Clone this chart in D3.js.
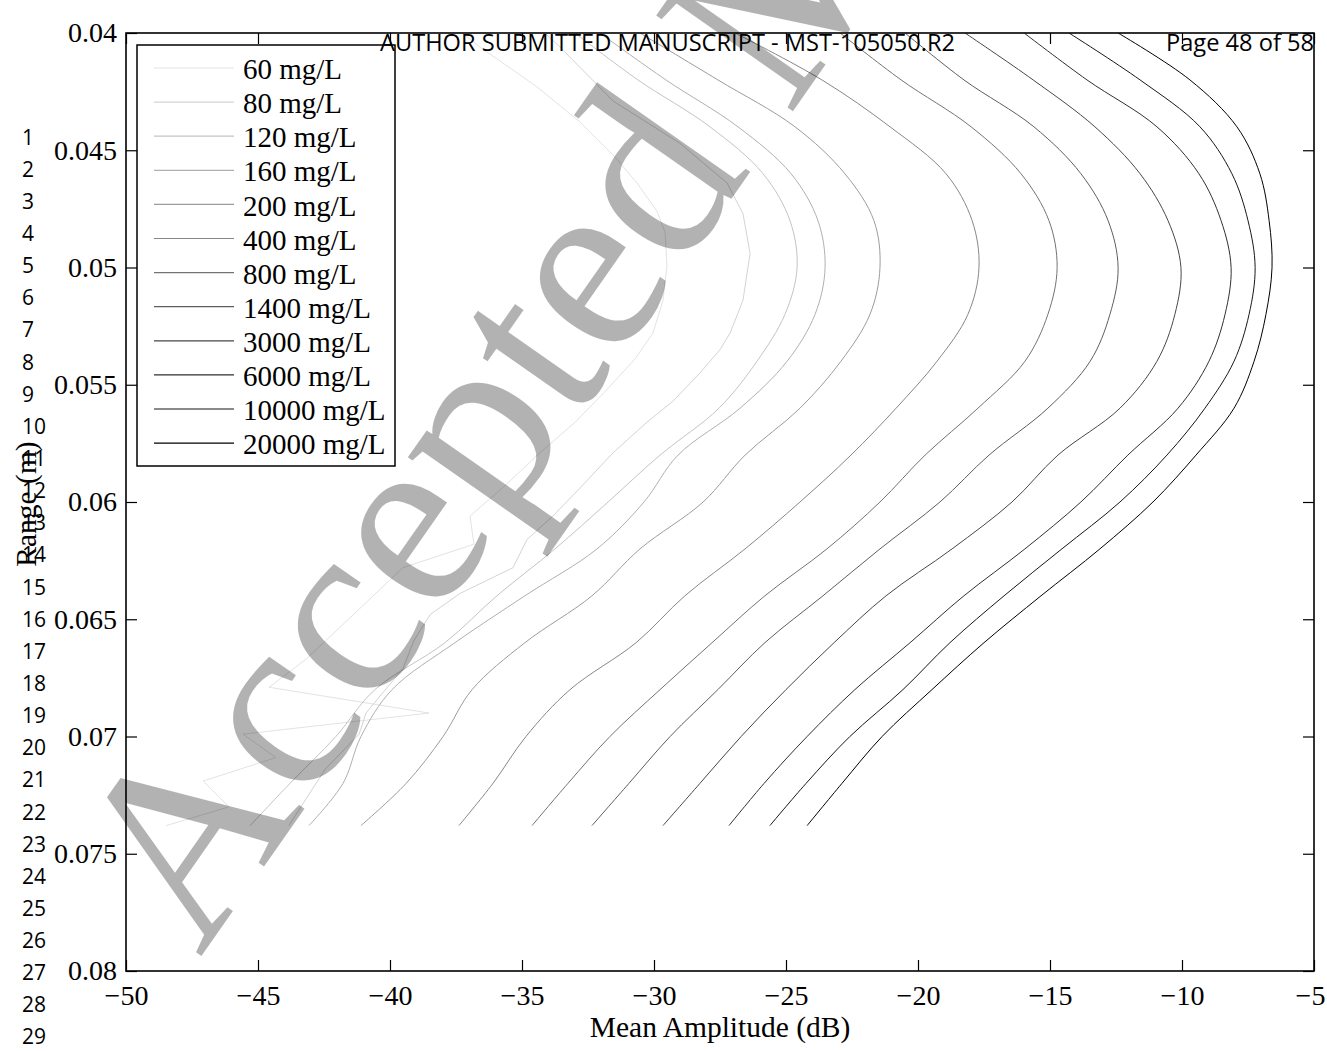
<!DOCTYPE html>
<html><head><meta charset="utf-8">
<script src="https://cdn.jsdelivr.net/npm/d3@7"></script>
<style>body{margin:0;background:#fff}</style>
</head><body>
<svg id="chart" width="1327" height="1051"></svg>
<script>
// ---------- data ----------
const concentrations = ["60 mg/L","80 mg/L","120 mg/L","160 mg/L","200 mg/L","400 mg/L","800 mg/L","1400 mg/L","3000 mg/L","6000 mg/L","10000 mg/L","20000 mg/L"];

// common range grid (m) for the smooth curves
const rangeGrid = [0.040,0.042,0.044,0.046,0.048,0.050,0.052,0.054,0.056,0.058,0.060,0.062,0.064,0.066,0.068,0.070,0.072,0.0738];

const amp120   = [-32.99,-30.61,-27.88,-25.87,-24.85,-24.58,-25.04,-26.10,-27.54,-29.77,-31.74,-33.75,-35.95,-37.92,-40.57,-42.05,-43.79,-45.30];
const amp160   = [-32.05,-29.55,-26.82,-24.81,-23.79,-23.52,-23.90,-24.96,-26.74,-29.09,-30.38,-32.16,-34.89,-37.54,-39.92,-41.10,-41.78,-43.07];
const amp200   = [-30.53,-27.58,-24.66,-22.77,-21.67,-21.44,-21.82,-22.92,-24.47,-26.55,-28.14,-30.53,-32.35,-34.89,-36.89,-37.99,-39.39,-41.10];
const amp400   = [-26.93,-23.64,-21.06,-18.94,-17.95,-17.69,-18.11,-19.28,-20.83,-22.54,-24.47,-26.55,-28.83,-30.68,-33.18,-34.85,-36.10,-37.39];
const amp800   = [-22.95,-20.64,-17.99,-16.10,-15.04,-14.73,-15.08,-15.95,-17.73,-19.73,-21.44,-23.45,-25.80,-27.80,-29.77,-31.67,-33.26,-34.62];
const amp1400  = [-20.49,-18.26,-15.61,-13.83,-12.80,-12.42,-12.73,-13.48,-15.08,-17.31,-19.17,-21.44,-23.60,-25.80,-27.58,-29.39,-30.95,-32.35];
const amp3000  = [-18.22,-15.64,-13.30,-11.59,-10.53,-10.04,-10.27,-10.95,-12.35,-14.70,-16.44,-18.71,-21.21,-23.18,-25.00,-26.70,-28.26,-29.66];
const amp6000  = [-15.98,-13.60,-10.95,-9.36,-8.52,-8.14,-8.37,-8.98,-10.15,-12.05,-13.83,-15.95,-18.26,-20.30,-22.39,-24.20,-25.83,-27.16];
const amp10000 = [-14.28,-11.59,-9.32,-8.11,-7.50,-7.23,-7.46,-8.03,-9.13,-10.57,-12.35,-14.55,-16.74,-18.79,-20.57,-22.58,-24.24,-25.61];
const amp20000 = [-12.42,-9.70,-7.92,-7.05,-6.70,-6.59,-6.82,-7.27,-8.03,-9.47,-11.10,-13.11,-15.34,-17.50,-19.47,-21.36,-22.88,-24.20];

// noisy low-concentration curves with their own range samples
const range60 = [0.0400,0.0406,0.0423,0.0438,0.0452,0.0464,0.0476,0.0485,0.0499,0.0514,0.0528,0.0539,0.0553,0.0566,0.0579,0.0593,0.0606,0.0618,0.0628,0.0647,0.0667,0.0679,0.0690,0.0699,0.0709,0.0719,0.0730,0.0738];
const amp60   = [-37.27,-36.59,-34.43,-32.80,-31.55,-30.64,-29.89,-29.58,-29.51,-29.66,-30.04,-30.72,-31.86,-32.99,-34.32,-35.64,-36.97,-36.82,-39.51,-41.29,-43.18,-44.58,-38.52,-45.57,-44.32,-47.08,-46.10,-48.48];
const range80 = [0.0400,0.0406,0.0429,0.0447,0.0464,0.0477,0.0494,0.0514,0.0528,0.0535,0.0545,0.0557,0.0566,0.0579,0.0594,0.0606,0.0616,0.0628,0.0639,0.0648,0.0659,0.0671,0.0690,0.0699,0.0714,0.0738];
const amp80   = [-34.13,-33.56,-31.55,-29.02,-27.23,-26.63,-26.36,-26.63,-27.12,-27.50,-28.26,-29.28,-30.27,-31.55,-32.80,-33.83,-34.81,-35.34,-37.35,-38.48,-39.09,-39.51,-40.91,-41.17,-42.46,-43.83];

const xTicks = [-50,-45,-40,-35,-30,-25,-20,-15,-10,-5];
const yTicks = [0.04,0.045,0.05,0.055,0.06,0.065,0.07,0.075,0.08];
const xLabel = "Mean Amplitude (dB)";
const yLabel = "Range (m)";
const headerLeft = "AUTHOR SUBMITTED MANUSCRIPT - MST-105050.R2";
const headerRight = "Page 48 of 58";
const watermark = "Accepted Manuscript";
const lineNumbers = d3.range(1, 30);

// ---------- drawing ----------
const W = 1327, H = 1051;
const P = {l:126, r:1314, t:33, b:971};
const serif = "'Liberation Serif','Times New Roman',serif";
const sans = "'Open Sans','DejaVu Sans',sans-serif";

const svg = d3.select("#chart");
svg.append("rect").attr("width", W).attr("height", H).attr("fill", "#fff");

const x = d3.scaleLinear().domain([-50, -5]).range([P.l, P.r]);
const y = d3.scaleLinear().domain([0.04, 0.08]).range([P.t, P.b]);

svg.append("defs").append("clipPath").attr("id", "clip")
  .append("rect").attr("x", P.l).attr("y", P.t).attr("width", P.r - P.l).attr("height", P.b - P.t);

const grayLevels = [0.89,0.83,0.77,0.69,0.61,0.53,0.45,0.37,0.28,0.19,0.09,0.0];
const color = i => d3.rgb(grayLevels[i]*255, grayLevels[i]*255, grayLevels[i]*255).toString();

const gridAmps = [amp120, amp160, amp200, amp400, amp800, amp1400, amp3000, amp6000, amp10000, amp20000];
const series = [
  {label: concentrations[0], pts: range60.map((r, j) => [amp60[j], r]), curve: d3.curveLinear},
  {label: concentrations[1], pts: range80.map((r, j) => [amp80[j], r]), curve: d3.curveLinear}
].concat(gridAmps.map((a, k) => ({label: concentrations[k + 2], pts: rangeGrid.map((r, j) => [a[j], r]), curve: d3.curveCatmullRom.alpha(0.5)})));

const gLines = svg.append("g").attr("clip-path", "url(#clip)");
series.forEach((s, i) => {
  gLines.append("path")
    .attr("d", d3.line().x(d => x(d[0])).y(d => y(d[1])).curve(s.curve)(s.pts))
    .attr("fill", "none").attr("stroke", color(i)).attr("stroke-width", 1.0);
});

// axes (ticks inward on all sides)
function styleAxis(g) {
  g.select(".domain").remove();
  g.selectAll(".tick line").attr("stroke", "#000").attr("stroke-width", 1.2);
  g.selectAll(".tick text").attr("font-family", serif).attr("font-size", 28).attr("fill", "#000");
}
svg.append("g").attr("transform", `translate(0,${P.b})`)
  .call(d3.axisBottom(x).tickValues(xTicks).tickSizeInner(-11).tickSizeOuter(0).tickPadding(14).tickFormat(d3.format("d")))
  .call(styleAxis)
  .call(g => g.selectAll(".tick text").filter(d => d === -5).attr("dx", -4));
svg.append("g").attr("transform", `translate(0,${P.t})`)
  .call(d3.axisTop(x).tickValues(xTicks).tickSizeInner(-11).tickSizeOuter(0).tickFormat(""))
  .call(styleAxis);
svg.append("g").attr("transform", `translate(${P.l},0)`)
  .call(d3.axisLeft(y).tickValues(yTicks).tickSizeInner(-11).tickSizeOuter(0).tickPadding(9).tickFormat(d => String(+d.toFixed(3))))
  .call(styleAxis);
svg.append("g").attr("transform", `translate(${P.r},0)`)
  .call(d3.axisRight(y).tickValues(yTicks).tickSizeInner(-11).tickSizeOuter(0).tickFormat(""))
  .call(styleAxis);

svg.append("rect").attr("x", P.l).attr("y", P.t).attr("width", P.r - P.l).attr("height", P.b - P.t)
  .attr("fill", "none").attr("stroke", "#000").attr("stroke-width", 1.6);

// axis labels
svg.append("text").attr("x", (P.l + P.r) / 2).attr("y", 1037).attr("text-anchor", "middle")
  .attr("font-family", serif).attr("font-size", 29.5).text(xLabel);
svg.append("text").attr("transform", `translate(36,${(P.t + P.b) / 2 + 2}) rotate(-90)`).attr("text-anchor", "middle")
  .attr("font-family", serif).attr("font-size", 29.5).text(yLabel);

// legend
const lg = svg.append("g");
lg.append("rect").attr("x", 137).attr("y", 45).attr("width", 258).attr("height", 421)
  .attr("fill", "#fff").attr("stroke", "#000").attr("stroke-width", 1.5);
series.forEach((s, i) => {
  const yy = 69 + i * 34.1;
  lg.append("line").attr("x1", 154).attr("x2", 234).attr("y1", yy - 1).attr("y2", yy - 1)
    .attr("stroke", color(i)).attr("stroke-width", 1.2);
  lg.append("text").attr("x", 243).attr("y", yy).attr("dy", "0.35em")
    .attr("font-family", serif).attr("font-size", 29).text(s.label);
});

// watermark
svg.append("text").attr("transform", "translate(200,958) rotate(-55)")
  .attr("font-family", serif).attr("font-size", 255).attr("fill", "#000").attr("fill-opacity", 0.3)
  .text(watermark);

// page header
svg.append("text").attr("x", 380).attr("y", 51).attr("font-family", sans).attr("font-size", 23)
  .attr("textLength", 575).attr("lengthAdjust", "spacingAndGlyphs").text(headerLeft);
svg.append("text").attr("x", 1166).attr("y", 51).attr("font-family", sans).attr("font-size", 23)
  .attr("textLength", 148).attr("lengthAdjust", "spacingAndGlyphs").text(headerRight);

// manuscript line numbers
svg.append("g").selectAll("text").data(lineNumbers).join("text")
  .attr("x", 22).attr("y", n => 137 + (n - 1) * 32.14).attr("dy", "0.36em")
  .attr("font-family", sans).attr("font-size", 21).text(n => n);
</script>
</body></html>
